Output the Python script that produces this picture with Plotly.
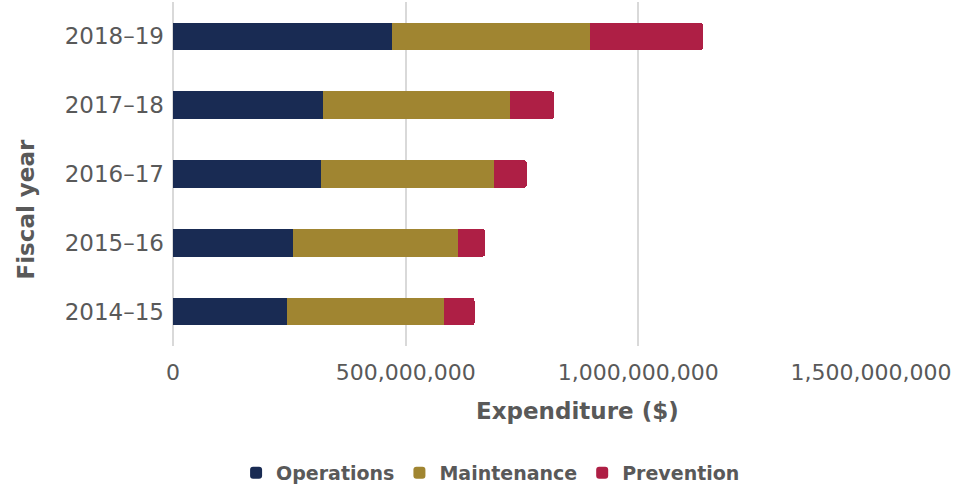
import plotly.graph_objects as go

# Fiscal years (bottom to top on the category axis)
years = ["2014–15", "2015–16", "2016–17", "2017–18", "2018–19"]

# Expenditure by category, in dollars
operations = [245e6, 257e6, 317e6, 322e6, 470e6]
maintenance = [338e6, 356e6, 372e6, 403e6, 427e6]
prevention = [65e6, 58e6, 71e6, 94e6, 242e6]

x_ticks = [0, 500e6, 1000e6, 1500e6]
x_tick_labels = ["0", "500,000,000", "1,000,000,000", "1,500,000,000"]

series = [
    ("Operations", operations, "#192b53"),
    ("Maintenance", maintenance, "#a08531"),
    ("Prevention", prevention, "#ae1f45"),
]

GREY = "#595959"
BOLD_FONT = dict(family="DejaVu Sans", size=23, color=GREY, weight="bold")

fig = go.Figure()
for name, values, color in series:
    fig.add_trace(go.Bar(
        y=years, x=values, name=name, orientation="h",
        marker=dict(color=color, line=dict(width=0)),
    ))

fig.update_layout(
    width=958, height=489,
    margin=dict(l=172.5, r=87, t=2, b=142.5),
    paper_bgcolor="white", plot_bgcolor="white",
    barmode="stack", bargap=0.6, barcornerradius=3,
    showlegend=True,
    legend=dict(
        orientation="h", x=0.455, xanchor="center",
        yref="container", y=0.033, yanchor="middle",
        font=dict(family="DejaVu Sans", size=19, color=GREY, weight="bold"),
        traceorder="normal", itemwidth=30,
    ),
    xaxis=dict(
        range=[0, 1500e6], tickvals=x_ticks, ticktext=x_tick_labels,
        tickfont=dict(family="DejaVu Sans", size=22, color=GREY),
        showgrid=True, gridcolor="#d9d9d9", gridwidth=2,
        zeroline=True, zerolinecolor="#d9d9d9", zerolinewidth=2,
        showline=False, ticks="", ticklabelstandoff=11,
    ),
    yaxis=dict(
        tickfont=dict(family="DejaVu Sans", size=23, color=GREY),
        showgrid=False, zeroline=False, showline=False, ticks="",
        ticklabelstandoff=8,
    ),
    annotations=[
        dict(text="Expenditure ($)", xref="paper", yref="paper",
             x=0.579, y=-0.19, xanchor="center", yanchor="middle",
             showarrow=False, font=BOLD_FONT),
        dict(text="Fiscal year", xref="paper", yref="paper",
             x=-0.211, y=0.396, xanchor="center", yanchor="middle",
             textangle=-90, showarrow=False, font=BOLD_FONT),
    ],
)

fig.write_html("out.html")
